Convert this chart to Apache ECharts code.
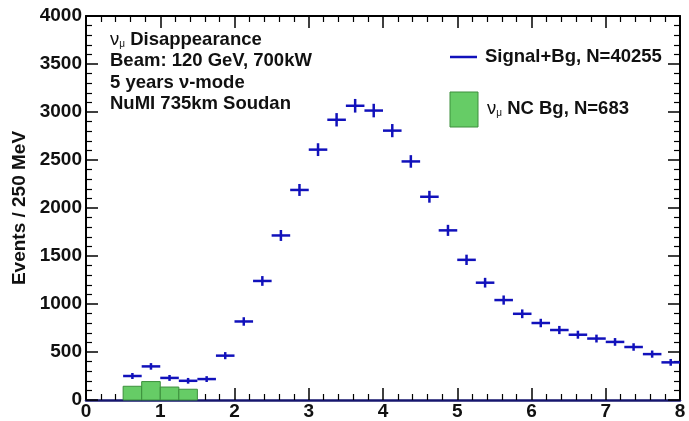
<!DOCTYPE html>
<html>
<head>
<meta charset="utf-8">
<script src="https://cdn.jsdelivr.net/npm/echarts@6/dist/echarts.min.js"></script>
<style>
  html, body { margin: 0; padding: 0; background: #fff; }
  #chart { width: 689px; height: 421px; }
</style>
</head>
<body>
<div id="chart"></div>
<script>
// Reconstructed-energy bins (GeV): low and high edges, 250 MeV wide
const binLow  = [0.5, 0.75, 1.0, 1.25, 1.5, 1.75, 2.0, 2.25, 2.5, 2.75,
                 3.0, 3.25, 3.5, 3.75, 4.0, 4.25, 4.5, 4.75, 5.0, 5.25,
                 5.5, 5.75, 6.0, 6.25, 6.5, 6.75, 7.0, 7.25, 7.5, 7.75];
const binHigh = [0.75, 1.0, 1.25, 1.5, 1.75, 2.0, 2.25, 2.5, 2.75, 3.0,
                 3.25, 3.5, 3.75, 4.0, 4.25, 4.5, 4.75, 5.0, 5.25, 5.5,
                 5.75, 6.0, 6.25, 6.5, 6.75, 7.0, 7.25, 7.5, 7.75, 8.0];

// Signal + background events per bin
const signalBg = [250, 350, 230, 200, 218, 462, 818, 1240, 1714, 2188,
                  2608, 2919, 3065, 3015, 2806, 2485, 2117, 1767, 1460, 1222,
                  1041, 898, 802, 729, 680, 640, 605, 552, 478, 392];

// Neutral-current background (only the low-energy bins are populated)
const ncLow  = [0.5, 0.75, 1.0, 1.25];
const ncHigh = [0.75, 1.0, 1.25, 1.5];
const ncBg   = [143, 192, 135, 112];

// Axis ticks
const xTicks = [0, 1, 2, 3, 4, 5, 6, 7, 8];
const yTicks = [0, 500, 1000, 1500, 2000, 2500, 3000, 3500, 4000];

const BLUE = '#1111bb';
const GREEN = '#66cc66';
const GREEN_EDGE = '#3c8f3c';
const FONT = '"Liberation Sans", Arial, sans-serif';
const TXT = 18.5;

const signalData = binLow.map((lo, i) => [lo, binHigh[i], signalBg[i]]);
const ncData = ncLow.map((lo, i) => [lo, ncHigh[i], ncBg[i]]);

const chart = echarts.init(document.getElementById('chart'), null, { renderer: 'canvas' });

const tickStyle = { inside: true, length: 12, lineStyle: { color: '#000', width: 1.5 } };
const minorStyle = { show: true, splitNumber: 5, length: 6, lineStyle: { color: '#000', width: 1.2 } };
const plainNumber = v => String(v);

const nuMuRich = {
  g: { fontFamily: FONT, fontSize: TXT, fill: '#111' },
  s: { fontFamily: FONT, fontSize: 10, fill: '#111', padding: [9, 0, 0, 0] },
  t: { fontFamily: FONT, fontSize: TXT, fontWeight: 'bold', fill: '#111' }
};

const option = {
  backgroundColor: '#fff',
  animation: false,
  grid: { left: 86, right: 9, top: 16, bottom: 20, containLabel: false },
  xAxis: [
    {
      type: 'value', min: xTicks[0], max: xTicks[xTicks.length - 1], interval: 1,
      position: 'bottom',
      axisLine: { show: true, onZero: false, lineStyle: { color: '#16166e', width: 2.5 } },
      axisTick: tickStyle,
      minorTick: minorStyle,
      splitLine: { show: false },
      axisLabel: { show: true, margin: 2, color: '#111', fontFamily: FONT, fontWeight: 'bold',
                   fontSize: 19, formatter: plainNumber }
    },
    {
      type: 'value', min: xTicks[0], max: xTicks[xTicks.length - 1], interval: 1,
      position: 'top',
      axisLine: { show: true, onZero: false, lineStyle: { color: '#000', width: 2 } },
      axisTick: tickStyle,
      minorTick: minorStyle,
      splitLine: { show: false },
      axisLabel: { show: false }
    }
  ],
  yAxis: [
    {
      type: 'value', min: yTicks[0], max: yTicks[yTicks.length - 1], interval: 500,
      position: 'left',
      name: 'Events / 250 MeV', nameLocation: 'middle', nameGap: 54,
      nameTextStyle: { color: '#111', fontFamily: FONT, fontWeight: 'bold', fontSize: 19 },
      axisLine: { show: true, onZero: false, lineStyle: { color: '#000', width: 2 } },
      axisTick: tickStyle,
      minorTick: minorStyle,
      splitLine: { show: false },
      axisLabel: { show: true, margin: 4, color: '#111', fontFamily: FONT, fontWeight: 'bold',
                   fontSize: 19, formatter: plainNumber }
    },
    {
      type: 'value', min: yTicks[0], max: yTicks[yTicks.length - 1], interval: 500,
      position: 'right',
      axisLine: { show: true, onZero: false, lineStyle: { color: '#000', width: 2 } },
      axisTick: tickStyle,
      minorTick: minorStyle,
      splitLine: { show: false },
      axisLabel: { show: false }
    }
  ],
  series: [
    {
      // NC background histogram
      type: 'custom', name: 'NC Bg', xAxisIndex: 0, yAxisIndex: 0, z: 2,
      data: ncData,
      encode: { x: [0, 1], y: 2 },
      renderItem: function (params, api) {
        const lo = api.value(0), hi = api.value(1), v = api.value(2);
        const p0 = api.coord([lo, v]);
        const p1 = api.coord([hi, 0]);
        return {
          type: 'rect',
          shape: { x: p0[0], y: p0[1], width: p1[0] - p0[0], height: p1[1] - p0[1] },
          style: { fill: GREEN, stroke: GREEN_EDGE, lineWidth: 1 }
        };
      }
    },
    {
      // Signal + background points with bin-width and statistical error bars
      type: 'custom', name: 'Signal+Bg', xAxisIndex: 0, yAxisIndex: 0, z: 3,
      data: signalData,
      encode: { x: [0, 1], y: 2 },
      renderItem: function (params, api) {
        const lo = api.value(0), hi = api.value(1), v = api.value(2);
        const err = Math.sqrt(v);
        const mid = (lo + hi) / 2;
        const pL = api.coord([lo, v]);
        const pR = api.coord([hi, v]);
        const pT = api.coord([mid, v + err]);
        const pB = api.coord([mid, v - err]);
        return {
          type: 'group',
          children: [
            { type: 'line', shape: { x1: pL[0], y1: pL[1], x2: pR[0], y2: pR[1] },
              style: { stroke: BLUE, lineWidth: 2.5 } },
            { type: 'line', shape: { x1: pT[0], y1: pT[1] - 1.5, x2: pB[0], y2: pB[1] + 1.5 },
              style: { stroke: BLUE, lineWidth: 2.5 } }
          ]
        };
      }
    }
  ],
  graphic: [
    // Run description
    { type: 'text', left: 110, top: 30, z: 10,
      style: { text: '{g|ν}{s|μ}{t| Disappearance}', rich: nuMuRich } },
    { type: 'text', left: 110, top: 51, z: 10,
      style: { text: 'Beam: 120 GeV, 700kW', fontFamily: FONT, fontSize: TXT, fontWeight: 'bold', fill: '#111' } },
    { type: 'text', left: 110, top: 73, z: 10,
      style: { text: '5 years ν-mode', fontFamily: FONT, fontSize: TXT, fontWeight: 'bold', fill: '#111' } },
    { type: 'text', left: 110, top: 94, z: 10,
      style: { text: 'NuMI 735km Soudan', fontFamily: FONT, fontSize: TXT, fontWeight: 'bold', fill: '#111' } },

    // Legend: signal + background
    { type: 'line', z: 10, shape: { x1: 450, y1: 57, x2: 477, y2: 57 },
      style: { stroke: BLUE, lineWidth: 2.5 } },
    { type: 'text', left: 485, top: 47, z: 10,
      style: { text: 'Signal+Bg, N=40255', fontFamily: FONT, fontSize: TXT, fontWeight: 'bold', fill: '#111' } },

    // Legend: NC background
    { type: 'rect', z: 10, shape: { x: 450, y: 92, width: 28, height: 35 },
      style: { fill: GREEN, stroke: GREEN_EDGE, lineWidth: 1 } },
    { type: 'text', left: 487, top: 99, z: 10,
      style: { text: '{g|ν}{s|μ}{t| NC Bg, N=683}', rich: nuMuRich } }
  ]
};

chart.setOption(option);
</script>
</body>
</html>
